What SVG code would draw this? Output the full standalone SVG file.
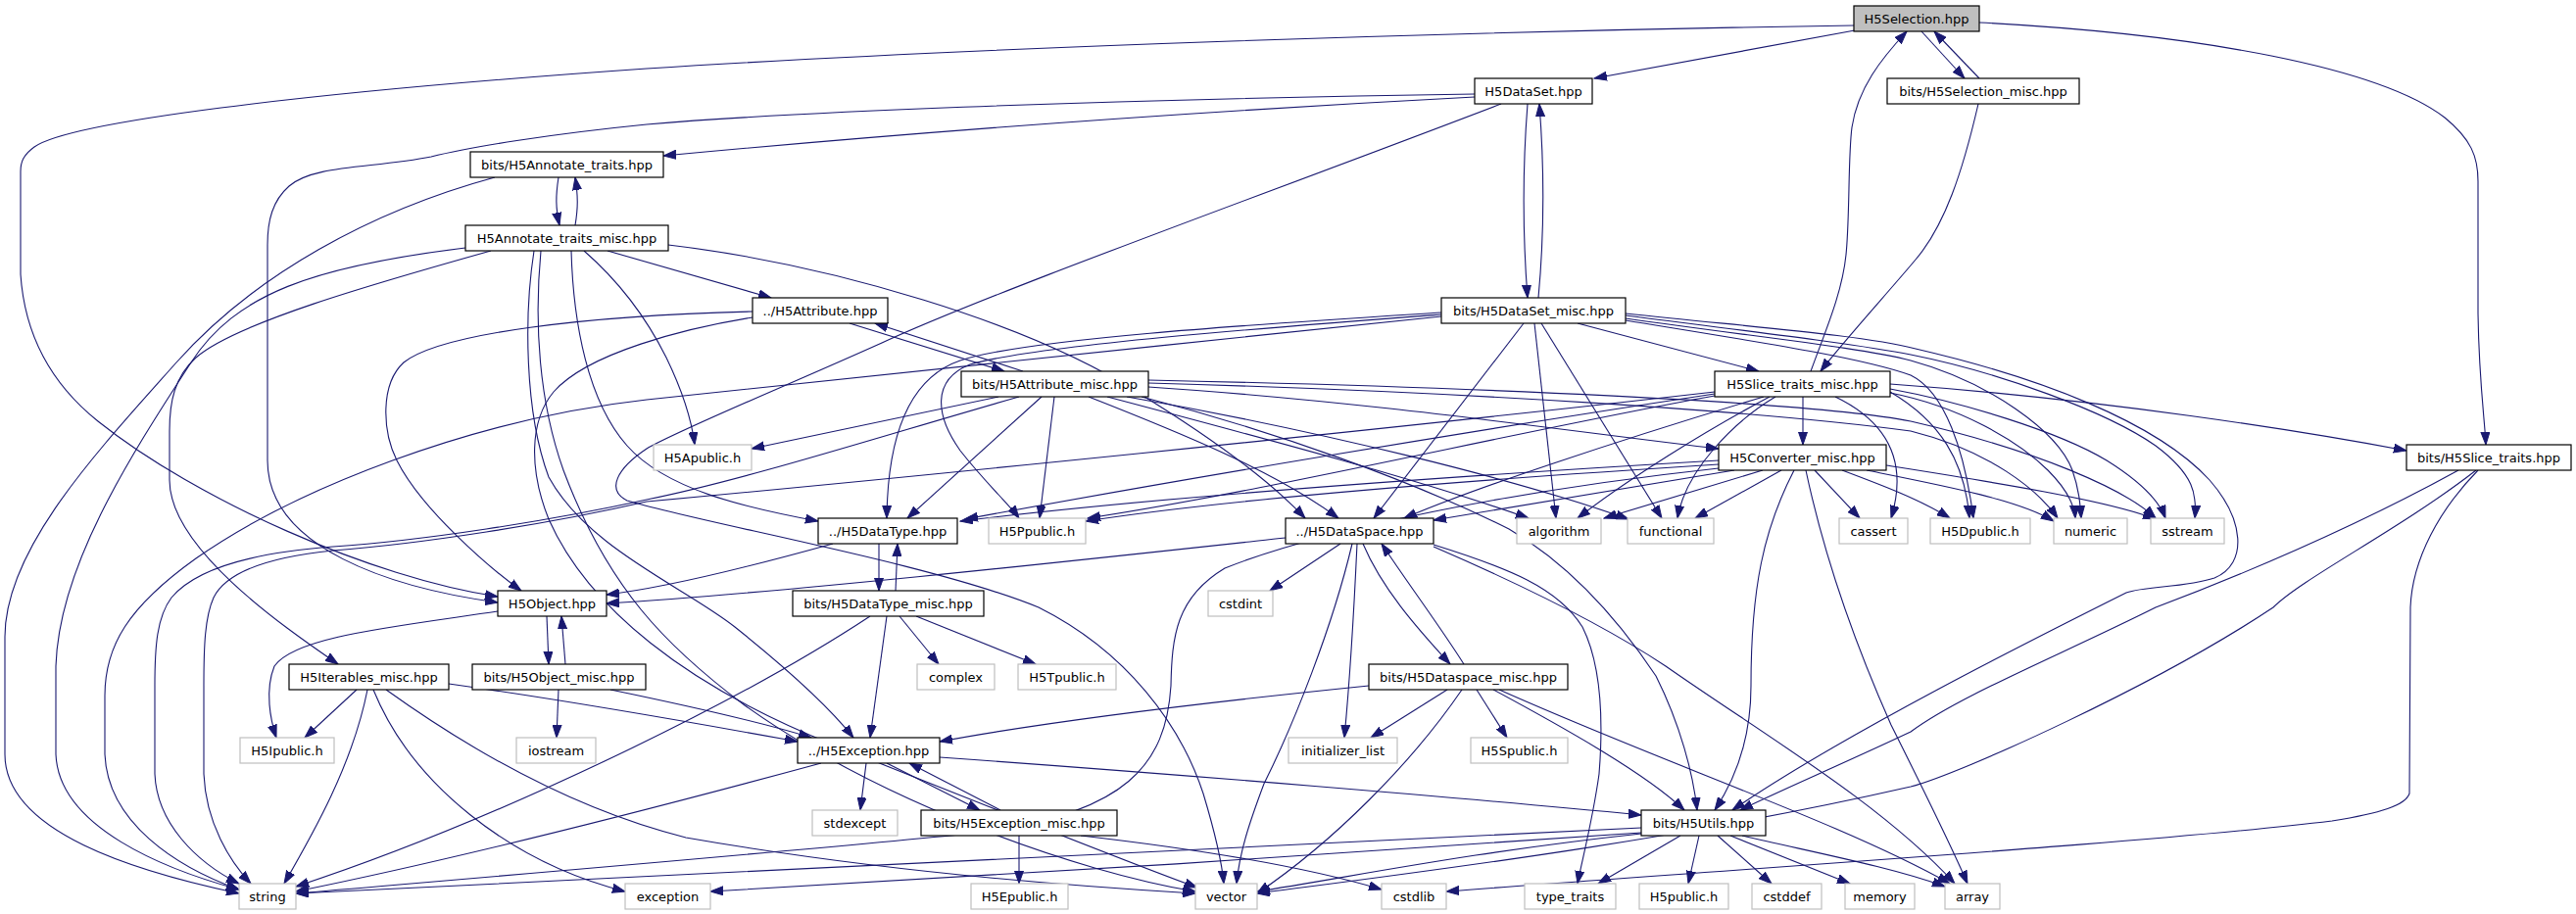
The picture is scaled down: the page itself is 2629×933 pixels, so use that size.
<svg xmlns="http://www.w3.org/2000/svg" width="2629" height="933" viewBox="0 0 2629 933">
<defs>
<marker id="a" markerWidth="14" markerHeight="10" refX="13" refY="5" orient="auto" markerUnits="userSpaceOnUse"><path d="M0,0.5 L13,5 L0,9.5 z" fill="#191970" stroke="#191970" stroke-width="1"/></marker>
</defs>
<style>
.n rect{fill:#fff;stroke:#000;stroke-width:1.2}
.g rect{fill:#fff;stroke:#bfbfbf;stroke-width:1.2}
.s rect{fill:#bfbfbf;stroke:#000;stroke-width:1.2}
text{font-family:"DejaVu Sans","Liberation Sans",sans-serif;font-size:13px;text-anchor:middle;fill:#000}
#edges path{fill:none;stroke:#191970;stroke-width:1.1;marker-end:url(#a)}
</style>
<rect width="2629" height="933" fill="#fff"/>
<g id="edges">
<path d="M1893,31 L1627,80"/>
<path d="M1892,26 C1500,32 1000,48 660,70 C300,95 70,125 35,150 C24,158 21,165 21,175 L21,280 C25,340 50,390 100,430 C200,510 380,590 508,609"/>
<path d="M1961,32 L2005,80"/>
<path d="M2020,80 L1974,32"/>
<path d="M2020,23 C2250,35 2430,70 2495,120 C2522,142 2529,160 2529,185 L2529,320 C2530,390 2536,430 2537,454"/>
<path d="M2019,106 C2003,175 1985,230 1955,265 C1930,295 1880,350 1858,379"/>
<path d="M1848,379 C1862,340 1880,300 1884,260 C1888,220 1886,160 1890,130 C1896,90 1920,60 1946,32"/>
<path d="M1505,99 C1200,115 900,138 677,159"/>
<path d="M1505,96 C1100,102 800,115 660,127 C560,137 480,150 440,160 C380,172 320,168 295,190 C278,205 273,225 273,250 L273,470 C273,560 400,600 508,615"/>
<path d="M1559,106 C1554,170 1554,240 1559,304"/>
<path d="M1570,304 C1576,240 1576,170 1571,106"/>
<path d="M1532,106 C1300,195 1020,295 900,350 C800,395 690,440 660,458 C630,478 618,500 640,511 C720,535 950,575 1060,620 C1150,665 1205,740 1228,810 C1240,850 1247,880 1249,902"/>
<path d="M1471,319 C1300,330 1050,345 980,368 C930,385 906,440 905,529"/>
<path d="M1471,321 C1300,334 1060,352 990,372 C950,388 955,425 980,460 C1005,492 1030,515 1040,529"/>
<path d="M1471,323 C1200,350 850,390 660,408 C480,428 300,500 200,570 C130,620 107,660 107,710 L107,770 C110,840 180,885 244,908"/>
<path d="M1555,330 L1402,529"/>
<path d="M1566,330 L1588,529"/>
<path d="M1573,330 L1696,529"/>
<path d="M1610,330 L1795,379"/>
<path d="M1659,322 C1800,340 1900,352 1950,362 C2040,380 2150,420 2200,455 C2240,485 2242,505 2240,529"/>
<path d="M1659,325 C1800,345 1900,355 1950,368 C2030,390 2100,440 2115,480 C2122,500 2123,515 2124,529"/>
<path d="M1659,327 C1800,350 1900,365 1950,383 C1985,400 2005,460 2014,529"/>
<path d="M1659,320 C1800,335 1900,342 1955,356 C2080,385 2200,430 2255,490 C2290,530 2295,575 2260,590 C2230,600 2190,598 2170,605 C2080,650 1880,750 1768,827"/>
<path d="M570,181 C567,200 567,212 571,230"/>
<path d="M587,230 C590,212 590,200 587,181"/>
<path d="M505,181 C380,215 260,280 180,370 C100,460 5,560 5,650 L5,770 C5,850 140,890 244,912"/>
<path d="M475,253 C320,272 240,300 195,370 C130,470 60,580 57,680 L57,770 C60,845 170,888 244,908"/>
<path d="M501,256 C380,290 240,330 200,365 C178,385 173,410 173,440 L173,490 C173,560 290,640 345,678"/>
<path d="M620,256 L787,304"/>
<path d="M682,250 C850,270 1050,330 1160,400 C1250,455 1300,495 1332,529"/>
<path d="M596,256 C635,290 660,325 680,365 C697,400 706,430 709,454"/>
<path d="M583,256 C585,330 600,410 640,455 C680,500 760,518 835,532"/>
<path d="M545,256 C535,320 535,420 560,487 C600,560 700,600 750,640 C800,680 845,720 871,753"/>
<path d="M552,256 C545,330 550,410 575,480 C620,600 680,660 760,720 C900,820 1100,890 1220,910"/>
<path d="M867,330 L1025,379"/>
<path d="M1044,379 L893,330"/>
<path d="M768,318 C600,322 450,340 412,370 C388,392 390,440 405,470 C430,520 500,580 532,603"/>
<path d="M768,324 C700,335 600,360 565,400 C540,430 540,480 560,530 C600,620 700,700 850,760 C1000,820 1150,880 1222,906"/>
<path d="M1019,405 L767,458"/>
<path d="M1040,405 C900,445 760,490 660,510 C560,532 430,552 340,558 C260,564 200,580 175,610 C160,630 158,660 158,700 L158,790 C160,840 200,880 244,902"/>
<path d="M1063,405 L926,529"/>
<path d="M1076,405 L1061,529"/>
<path d="M1111,405 C1200,440 1300,480 1366,529"/>
<path d="M1130,405 C1300,450 1450,490 1560,529"/>
<path d="M1150,405 C1350,440 1550,490 1662,530"/>
<path d="M1172,395 C1400,410 1600,440 1754,458"/>
<path d="M1172,391 C1500,400 1800,420 1950,440 C2030,460 2080,500 2100,529"/>
<path d="M1172,388 C1500,395 1850,410 1950,430 C2080,460 2170,500 2200,529"/>
<path d="M1165,405 C1300,440 1440,490 1540,540 C1600,575 1650,630 1690,690 C1715,740 1728,790 1732,827"/>
<path d="M897,555 L897,603"/>
<path d="M914,603 L916,555"/>
<path d="M850,555 C760,580 680,600 619,607"/>
<path d="M888,629 C750,720 500,840 302,905"/>
<path d="M905,629 L888,753"/>
<path d="M918,629 L958,678"/>
<path d="M935,629 L1057,678"/>
<path d="M1368,555 L1296,603"/>
<path d="M1312,549 C1100,572 800,605 619,616"/>
<path d="M1380,555 C1360,640 1320,740 1290,800 C1275,840 1265,870 1262,902"/>
<path d="M1385,555 C1382,620 1378,690 1372,753"/>
<path d="M1391,555 C1410,600 1445,640 1480,678"/>
<path d="M1494,678 C1470,640 1440,600 1410,555"/>
<path d="M1463,556 C1540,580 1590,600 1615,640 C1635,680 1636,740 1632,790 C1625,840 1614,880 1610,902"/>
<path d="M1463,558 C1560,600 1640,640 1700,680 C1800,750 1920,820 1995,902"/>
<path d="M1397,700 C1200,720 1050,740 959,757"/>
<path d="M1477,704 L1399,753"/>
<path d="M1507,704 L1538,753"/>
<path d="M1524,704 C1600,745 1680,790 1719,827"/>
<path d="M1492,704 C1440,780 1360,860 1283,912"/>
<path d="M1530,704 C1700,780 1880,840 1990,902"/>
<path d="M1754,470 C1500,485 1200,505 980,532"/>
<path d="M1754,474 C1500,490 1250,510 1108,532"/>
<path d="M1770,480 L1463,531"/>
<path d="M1799,480 L1637,529"/>
<path d="M1818,480 L1730,529"/>
<path d="M1852,480 L1898,529"/>
<path d="M1831,480 C1800,540 1787,600 1787,700 C1787,760 1768,800 1750,827"/>
<path d="M1843,480 C1860,560 1890,650 1930,740 C1960,800 1990,860 2008,902"/>
<path d="M1880,480 C1920,495 1960,510 1990,529"/>
<path d="M1905,480 C1980,495 2060,510 2096,532"/>
<path d="M1925,475 C2020,490 2150,510 2200,530"/>
<path d="M1754,478 C1550,500 1350,540 1250,580 C1200,610 1196,650 1195,700 C1190,780 1150,830 1000,850 C800,870 500,895 302,912"/>
<path d="M1929,392 C2150,408 2350,440 2456,460"/>
<path d="M1840,405 L1840,454"/>
<path d="M1873,405 C1925,430 1948,470 1930,529"/>
<path d="M1812,405 C1770,430 1720,480 1712,529"/>
<path d="M1806,405 C1740,440 1660,490 1610,529"/>
<path d="M1800,405 C1650,450 1500,500 1433,529"/>
<path d="M1750,402 C1500,440 1200,490 985,530"/>
<path d="M1750,404 C1550,440 1300,500 1110,529"/>
<path d="M1750,400 C1400,440 900,490 660,512 C560,535 430,555 340,562 C280,568 232,582 218,610 C209,630 208,660 208,700 L208,790 C210,840 235,880 256,902"/>
<path d="M1929,400 C1980,430 2005,470 2010,529"/>
<path d="M1929,401 C2000,415 2060,450 2090,480 C2110,500 2117,515 2118,529"/>
<path d="M1929,397 C2000,410 2100,440 2150,470 C2190,495 2205,515 2210,529"/>
<path d="M508,624 C400,640 300,650 280,680 C270,705 276,735 282,753"/>
<path d="M558,629 L560,678"/>
<path d="M577,678 L573,629"/>
<path d="M570,704 L568,753"/>
<path d="M623,704 C700,720 780,738 828,753"/>
<path d="M364,704 L311,753"/>
<path d="M375,704 C360,780 320,850 290,902"/>
<path d="M381,704 C420,800 520,880 638,910"/>
<path d="M394,704 C500,780 600,830 700,855 C900,890 1100,905 1220,912"/>
<path d="M458,698 C600,718 720,740 814,757"/>
<path d="M838,779 C650,830 450,880 302,910"/>
<path d="M884,779 L878,827"/>
<path d="M905,779 L1000,827"/>
<path d="M1021,827 L928,779"/>
<path d="M959,773 C1200,790 1500,815 1675,832"/>
<path d="M1040,853 L1040,902"/>
<path d="M1103,853 C1250,870 1350,890 1410,908"/>
<path d="M1675,845 C1300,862 800,890 302,912"/>
<path d="M1675,850 C1400,870 1000,895 725,910"/>
<path d="M1675,851 C1500,870 1380,895 1283,910"/>
<path d="M1715,853 L1631,902"/>
<path d="M1734,853 L1723,902"/>
<path d="M1753,853 L1808,902"/>
<path d="M1766,853 L1888,902"/>
<path d="M1778,853 C1850,870 1930,885 1985,905"/>
<path d="M2509,480 C2400,540 2280,590 2200,620 C2100,670 2000,710 1950,747 C1880,780 1810,810 1776,827"/>
<path d="M2527,480 C2450,540 2350,590 2320,620 C2200,700 2000,790 1950,803 C1700,860 1450,890 1283,912"/>
<path d="M2529,480 C2490,520 2462,570 2460,620 L2459,810 C2455,822 2430,830 2380,838 C2200,860 1800,885 1476,910"/>
</g>
<g id="n1" class="s"><rect x="1892" y="6" width="128" height="26"/><text x="1956" y="24">H5Selection.hpp</text></g>
<g id="n2" class="n"><rect x="1505" y="80" width="120" height="26"/><text x="1565" y="98">H5DataSet.hpp</text></g>
<g id="n3" class="n"><rect x="1926" y="80" width="196" height="26"/><text x="2024" y="98">bits/H5Selection_misc.hpp</text></g>
<g id="n4" class="n"><rect x="480" y="155" width="197" height="26"/><text x="578.5" y="173">bits/H5Annotate_traits.hpp</text></g>
<g id="n5" class="n"><rect x="475" y="230" width="207" height="26"/><text x="578.5" y="248">H5Annotate_traits_misc.hpp</text></g>
<g id="n6" class="n"><rect x="768" y="304" width="138" height="26"/><text x="837" y="322">../H5Attribute.hpp</text></g>
<g id="n7" class="n"><rect x="981" y="379" width="191" height="26"/><text x="1076.5" y="397">bits/H5Attribute_misc.hpp</text></g>
<g id="n8" class="g"><rect x="667" y="454" width="100" height="26"/><text x="717" y="472">H5Apublic.h</text></g>
<g id="n9" class="n"><rect x="835" y="529" width="142" height="26"/><text x="906" y="547">../H5DataType.hpp</text></g>
<g id="n10" class="g"><rect x="1009" y="529" width="99" height="26"/><text x="1058.5" y="547">H5Ppublic.h</text></g>
<g id="n11" class="n"><rect x="809" y="603" width="195" height="26"/><text x="906.5" y="621">bits/H5DataType_misc.hpp</text></g>
<g id="n12" class="n"><rect x="1471" y="304" width="188" height="26"/><text x="1565" y="322">bits/H5DataSet_misc.hpp</text></g>
<g id="n13" class="n"><rect x="1750" y="379" width="179" height="26"/><text x="1839.5" y="397">H5Slice_traits_misc.hpp</text></g>
<g id="n14" class="n"><rect x="1754" y="454" width="171" height="26"/><text x="1839.5" y="472">H5Converter_misc.hpp</text></g>
<g id="n15" class="n"><rect x="1312" y="529" width="151" height="26"/><text x="1387.5" y="547">../H5DataSpace.hpp</text></g>
<g id="n16" class="g"><rect x="1548" y="529" width="86" height="26"/><text x="1591" y="547">algorithm</text></g>
<g id="n17" class="g"><rect x="1661" y="529" width="88" height="26"/><text x="1705" y="547">functional</text></g>
<g id="n18" class="g"><rect x="1877" y="529" width="70" height="26"/><text x="1912" y="547">cassert</text></g>
<g id="n19" class="g"><rect x="1970" y="529" width="102" height="26"/><text x="2021" y="547">H5Dpublic.h</text></g>
<g id="n20" class="g"><rect x="2096" y="529" width="75" height="26"/><text x="2133.5" y="547">numeric</text></g>
<g id="n21" class="g"><rect x="2195" y="529" width="75" height="26"/><text x="2232.5" y="547">sstream</text></g>
<g id="n22" class="n"><rect x="2456" y="454" width="168" height="26"/><text x="2540" y="472">bits/H5Slice_traits.hpp</text></g>
<g id="n23" class="n"><rect x="508" y="603" width="111" height="26"/><text x="563.5" y="621">H5Object.hpp</text></g>
<g id="n24" class="g"><rect x="1233" y="603" width="66" height="26"/><text x="1266" y="621">cstdint</text></g>
<g id="n25" class="n"><rect x="295" y="678" width="163" height="26"/><text x="376.5" y="696">H5Iterables_misc.hpp</text></g>
<g id="n26" class="n"><rect x="482" y="678" width="177" height="26"/><text x="570.5" y="696">bits/H5Object_misc.hpp</text></g>
<g id="n27" class="g"><rect x="936" y="678" width="79" height="26"/><text x="975.5" y="696">complex</text></g>
<g id="n28" class="g"><rect x="1039" y="678" width="100" height="26"/><text x="1089" y="696">H5Tpublic.h</text></g>
<g id="n29" class="n"><rect x="1397" y="678" width="203" height="26"/><text x="1498.5" y="696">bits/H5Dataspace_misc.hpp</text></g>
<g id="n30" class="g"><rect x="245" y="753" width="96" height="26"/><text x="293" y="771">H5Ipublic.h</text></g>
<g id="n31" class="g"><rect x="527" y="753" width="81" height="26"/><text x="567.5" y="771">iostream</text></g>
<g id="n32" class="n"><rect x="814" y="753" width="145" height="26"/><text x="886.5" y="771">../H5Exception.hpp</text></g>
<g id="n33" class="g"><rect x="1315" y="753" width="111" height="26"/><text x="1370.5" y="771">initializer_list</text></g>
<g id="n34" class="g"><rect x="1501" y="753" width="99" height="26"/><text x="1550.5" y="771">H5Spublic.h</text></g>
<g id="n35" class="g"><rect x="829" y="827" width="87" height="26"/><text x="872.5" y="845">stdexcept</text></g>
<g id="n36" class="n"><rect x="940" y="827" width="200" height="26"/><text x="1040" y="845">bits/H5Exception_misc.hpp</text></g>
<g id="n37" class="n"><rect x="1675" y="827" width="127" height="26"/><text x="1738.5" y="845">bits/H5Utils.hpp</text></g>
<g id="n38" class="g"><rect x="244" y="902" width="58" height="26"/><text x="273" y="920">string</text></g>
<g id="n39" class="g"><rect x="638" y="902" width="87" height="26"/><text x="681.5" y="920">exception</text></g>
<g id="n40" class="g"><rect x="991" y="902" width="99" height="26"/><text x="1040.5" y="920">H5Epublic.h</text></g>
<g id="n41" class="g"><rect x="1220" y="902" width="63" height="26"/><text x="1251.5" y="920">vector</text></g>
<g id="n42" class="g"><rect x="1410" y="902" width="66" height="26"/><text x="1443" y="920">cstdlib</text></g>
<g id="n43" class="g"><rect x="1556" y="902" width="93" height="26"/><text x="1602.5" y="920">type_traits</text></g>
<g id="n44" class="g"><rect x="1673" y="902" width="91" height="26"/><text x="1718.5" y="920">H5public.h</text></g>
<g id="n45" class="g"><rect x="1788" y="902" width="71" height="26"/><text x="1823.5" y="920">cstddef</text></g>
<g id="n46" class="g"><rect x="1883" y="902" width="71" height="26"/><text x="1918.5" y="920">memory</text></g>
<g id="n47" class="g"><rect x="1985" y="902" width="56" height="26"/><text x="2013" y="920">array</text></g>
</svg>
